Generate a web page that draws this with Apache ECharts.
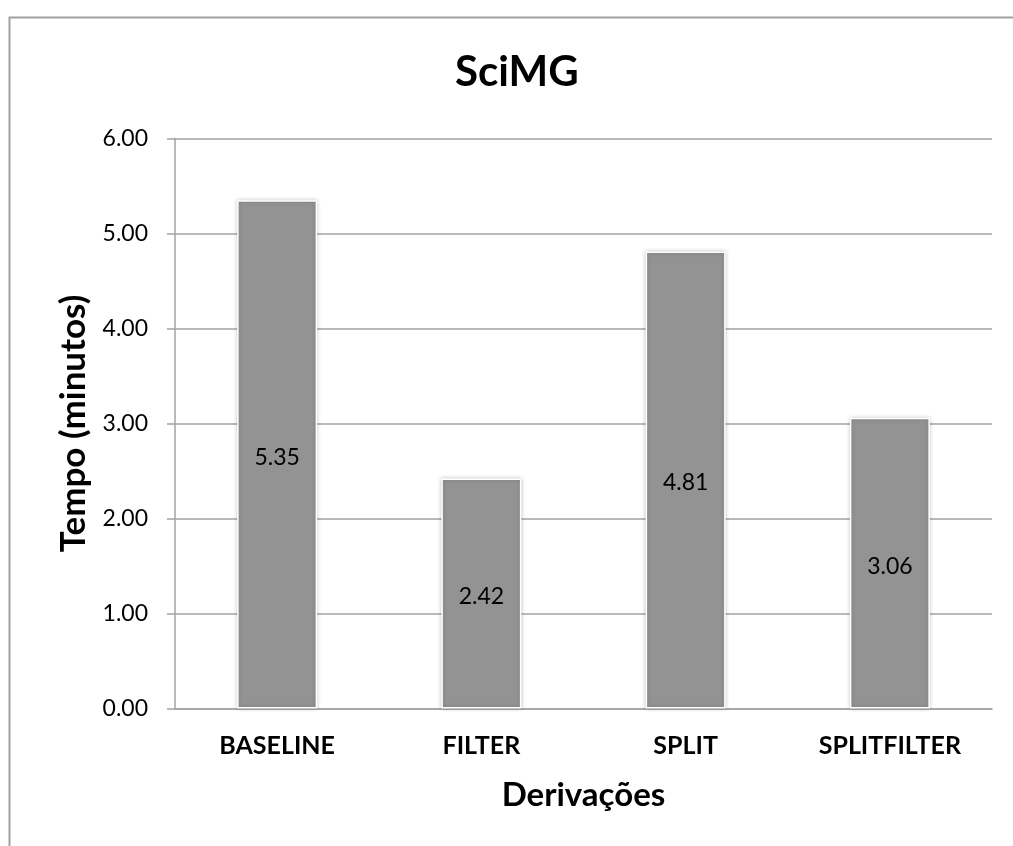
<!DOCTYPE html>
<html>
<head>
<meta charset="utf-8">
<title>SciMG</title>
<script src="https://cdn.jsdelivr.net/npm/echarts@6/dist/echarts.min.js"></script>
<style>
  html, body { margin: 0; padding: 0; background: #ffffff; }
  #chart { width: 1013px; height: 846px; }
</style>
</head>
<body>
<div id="chart"></div>
<script>
// Execution time per workflow derivation
const categories = ['BASELINE', 'FILTER', 'SPLIT', 'SPLITFILTER'];
const tempos = [5.35, 2.42, 4.81, 3.06];
const yTicks = { min: 0, max: 6, interval: 1 };

const FONT = 'Lato';
const lineGray = '#a3a3a3';

const chart = echarts.init(document.getElementById('chart'), null, { renderer: 'canvas' });

chart.setOption({
  backgroundColor: '#ffffff',
  animation: false,
  title: {
    text: 'SciMG',
    left: 455,
    top: 51,
    padding: 0,
    textStyle: { fontFamily: FONT, fontWeight: 'bold', fontSize: 42, color: '#000000' }
  },
  graphic: [{
    // outer chart frame (right and bottom edges fall outside the page)
    type: 'rect',
    silent: true,
    shape: { x: 9.5, y: 17.5, width: 1040, height: 860 },
    style: { fill: 'none', stroke: '#a0a0a0', lineWidth: 2 }
  }],
  grid: { left: 175, right: 21, top: 138.5, bottom: 137.5 },
  xAxis: {
    type: 'category',
    data: categories,
    name: 'Derivações',
    nameLocation: 'middle',
    nameGap: 70,
    nameTextStyle: { fontFamily: FONT, fontWeight: 'bold', fontSize: 33, color: '#000000' },
    axisLine: { lineStyle: { color: lineGray, width: 1.5 } },
    axisTick: { show: false },
    axisLabel: { fontFamily: FONT, fontWeight: 'bold', fontSize: 25, color: '#000000', margin: 25 }
  },
  yAxis: {
    type: 'value',
    min: yTicks.min,
    max: yTicks.max,
    interval: yTicks.interval,
    name: 'Tempo (minutos)',
    nameLocation: 'middle',
    nameGap: 84,
    nameTextStyle: { fontFamily: FONT, fontWeight: 'bold', fontSize: 35, color: '#000000' },
    axisLine: { show: true, lineStyle: { color: lineGray, width: 1.5 } },
    axisTick: { show: true, inside: false, length: 8, lineStyle: { color: lineGray, width: 1.5 } },
    splitLine: { show: true, lineStyle: { color: lineGray, width: 1.5 } },
    axisLabel: {
      fontFamily: FONT, fontSize: 23, color: '#000000', margin: 27,
      formatter: v => v.toFixed(2)
    }
  },
  series: [{
    type: 'bar',
    data: tempos,
    barWidth: 80,
    itemStyle: {
      color: '#939393',
      borderColor: '#ffffff',
      borderWidth: 1.5,
      shadowColor: 'rgba(0,0,0,0.22)',
      shadowBlur: 4
    },
    label: {
      show: true,
      position: 'inside',
      offset: [0, 3],
      fontFamily: FONT,
      fontSize: 23,
      color: '#000000',
      formatter: p => p.value.toFixed(2)
    }
  }]
});
</script>
</body>
</html>
